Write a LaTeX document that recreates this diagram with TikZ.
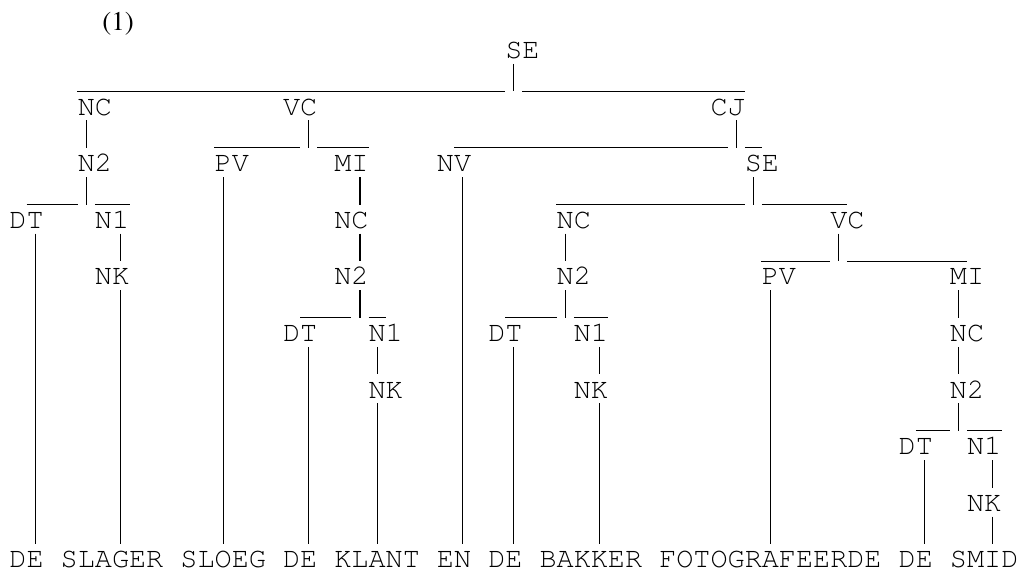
\documentclass[tikz,border=0pt]{standalone}
\usepackage[T1,TU]{fontenc}
\usetikzlibrary{calc}

\newcommand\treefont{\fontencoding{T1}\fontfamily{pcr}\fontseries{m}\fontshape{n}\fontsize{14.25pt}{14.25pt}\selectfont}
\newcommand\numfont{\fontencoding{T1}\fontfamily{ptm}\fontseries{m}\fontshape{n}\fontsize{13.5pt}{13.5pt}\selectfont}

\begin{document}
\begin{tikzpicture}[x=8.55pt, y=-14.15pt,
    lbl/.style={font=\treefont, inner sep=0pt, text height=11.7pt, text depth=2.45pt, anchor=base},
    branch/.style={line width=0.55pt}
]
    \useasboundingbox (-1.0526,-2.0671) rectangle (58.655,18.180);
    \node[font=\numfont, inner sep=0pt] (num) at (5.85,-1.22) {(1)};

    % categories
    \node[lbl] (se0) at (29.5,0) {SE};
    \node[lbl] (nc0) at (4.5,2) {NC};
    \node[lbl] (vc0) at (16.5,2) {VC};
    \node[lbl] (cj) at (41.5,2) {CJ};
    \node[lbl] (n2a) at (4.5,4) {N2};
    \node[lbl] (pv0) at (12.5,4) {PV};
    \node[lbl] (mi0) at (19.5,4) {MI};
    \node[lbl] (nv) at (25.5,4) {NV};
    \node[lbl] (se1) at (43.5,4) {SE};
    \node[lbl] (dta) at (0.5,6) {DT};
    \node[lbl] (n1a) at (5.5,6) {N1};
    \node[lbl] (nc1) at (19.5,6) {NC};
    \node[lbl] (nc2) at (32.5,6) {NC};
    \node[lbl] (vc1) at (48.5,6) {VC};
    \node[lbl] (nka) at (5.5,8) {NK};
    \node[lbl] (n2b) at (19.5,8) {N2};
    \node[lbl] (n2c) at (32.5,8) {N2};
    \node[lbl] (pv1) at (44.5,8) {PV};
    \node[lbl] (mi1) at (55.5,8) {MI};
    \node[lbl] (dtb) at (16.5,10) {DT};
    \node[lbl] (n1b) at (21.5,10) {N1};
    \node[lbl] (dtc) at (28.5,10) {DT};
    \node[lbl] (n1c) at (33.5,10) {N1};
    \node[lbl] (nc3) at (55.5,10) {NC};
    \node[lbl] (nkb) at (21.5,12) {NK};
    \node[lbl] (nkc) at (33.5,12) {NK};
    \node[lbl] (n2d) at (55.5,12) {N2};
    \node[lbl] (dtd) at (52.5,14) {DT};
    \node[lbl] (n1d) at (56.5,14) {N1};
    \node[lbl] (nkd) at (56.5,16) {NK};

    % words
    \node[lbl] (w1) at (0.5,18) {DE};
    \node[lbl] (w2) at (5.5,18) {SLAGER};
    \node[lbl] (w3) at (12,18) {SLOEG};
    \node[lbl] (w4) at (16.5,18) {DE};
    \node[lbl] (w5) at (21,18) {KLANT};
    \node[lbl] (w6) at (25.5,18) {EN};
    \node[lbl] (w7) at (28.5,18) {DE};
    \node[lbl] (w8) at (33.5,18) {BAKKER};
    \node[lbl] (w9) at (44,18) {FOTOGRAFEERDE};
    \node[lbl] (w10) at (52.5,18) {DE};
    \node[lbl] (w11) at (56.5,18) {SMID};

    % SE -> NC, CJ
    \draw[branch] ($(se0.south)+(-0.5,0)$) -- ($(se0.south |- nc0.north)+(-0.5,0)$);
    \draw[branch] (nc0.north west) -- ($(se0.south |- nc0.north)+(-1,0)$);
    \draw[branch] (se0.south |- cj.north) -- (cj.north east);

    % N2 -> DT, N1
    \draw[branch] ($(n2a.south)+(-0.5,0)$) -- ($(n2a.south |- dta.north)+(-0.5,0)$);
    \draw[branch] (dta.north) -- ($(n2a.south |- dta.north)+(-1,0)$);
    \draw[branch] (n2a.south |- n1a.north) -- (n1a.north east);

    % VC -> PV, MI
    \draw[branch] ($(vc0.south)+(0.5,0)$) -- ($(vc0.south |- pv0.north)+(0.5,0)$);
    \draw[branch] (pv0.north west) -- (vc0.south |- pv0.north);
    \draw[branch] ($(vc0.south |- mi0.north)+(1,0)$) -- (mi0.north east);

    % N2 -> DT, N1
    \draw[branch] ($(n2b.south)+(0.5,0)$) -- ($(n2b.south |- dtb.north)+(0.5,0)$);
    \draw[branch] (dtb.north) -- (n2b.south |- dtb.north);
    \draw[branch] ($(n2b.south |- n1b.north)+(1,0)$) -- (n1b.north);

    % CJ -> NV, SE
    \draw[branch] ($(cj.south)+(0.5,0)$) -- ($(cj.south |- nv.north)+(0.5,0)$);
    \draw[branch] (nv.north) -- (cj.south |- nv.north);
    \draw[branch] ($(cj.south |- se1.north)+(1,0)$) -- (se1.north);

    % SE -> NC, VC
    \draw[branch] ($(se1.south)+(-0.5,0)$) -- ($(se1.south |- nc2.north)+(-0.5,0)$);
    \draw[branch] (nc2.north west) -- ($(se1.south |- nc2.north)+(-1,0)$);
    \draw[branch] (se1.south |- vc1.north) -- (vc1.north);

    % N2 -> DT, N1
    \draw[branch] ($(n2c.south)+(-0.5,0)$) -- ($(n2c.south |- dtc.north)+(-0.5,0)$);
    \draw[branch] (dtc.north) -- ($(n2c.south |- dtc.north)+(-1,0)$);
    \draw[branch] (n2c.south |- n1c.north) -- (n1c.north east);

    % VC -> PV, MI
    \draw[branch] ($(vc1.south)+(-0.5,0)$) -- ($(vc1.south |- pv1.north)+(-0.5,0)$);
    \draw[branch] (pv1.north west) -- ($(vc1.south |- pv1.north)+(-1,0)$);
    \draw[branch] (vc1.south |- mi1.north) -- (mi1.north);

    % N2 -> DT, N1
    \draw[branch] ($(n2d.south)+(-0.5,0)$) -- ($(n2d.south |- dtd.north)+(-0.5,0)$);
    \draw[branch] (dtd.north) -- ($(n2d.south |- dtd.north)+(-1,0)$);
    \draw[branch] (n2d.south |- n1d.north) -- (n1d.north east);

    % single stems
    \draw[branch] ($(nc0.south)+(-0.5,0)$) -- ($(nc0.south |- n2a.north)+(-0.5,0)$);
    \draw[branch] ($(dta.south)+(0.5,0)$) -- ($(dta.south |- w1.north)+(0.5,0)$);
    \draw[branch] ($(n1a.south)+(0.5,0)$) -- ($(n1a.south |- nka.north)+(0.5,0)$);
    \draw[branch] ($(nka.south)+(0.5,0)$) -- ($(nka.south |- w2.north)+(0.5,0)$);
    \draw[branch] ($(pv0.south)+(-0.5,0)$) -- ($(pv0.south |- w3.north)+(-0.5,0)$);
    \draw[branch] ($(mi0.south)+(0.5,0)$) -- ($(mi0.south |- nc1.north)+(0.5,0)$);
    \draw[branch] ($(nc1.south)+(0.5,0)$) -- ($(nc1.south |- n2b.north)+(0.5,0)$);
    \draw[branch] ($(dtb.south)+(0.5,0)$) -- ($(dtb.south |- w4.north)+(0.5,0)$);
    \draw[branch] ($(n1b.south)+(-0.5,0)$) -- ($(n1b.south |- nkb.north)+(-0.5,0)$);
    \draw[branch] ($(nkb.south)+(-0.5,0)$) -- ($(nkb.south |- w5.north)+(-0.5,0)$);
    \draw[branch] ($(nv.south)+(0.5,0)$) -- ($(nv.south |- w6.north)+(0.5,0)$);
    \draw[branch] ($(nc2.south)+(-0.5,0)$) -- ($(nc2.south |- n2c.north)+(-0.5,0)$);
    \draw[branch] ($(dtc.south)+(0.5,0)$) -- ($(dtc.south |- w7.north)+(0.5,0)$);
    \draw[branch] ($(n1c.south)+(0.5,0)$) -- ($(n1c.south |- nkc.north)+(0.5,0)$);
    \draw[branch] ($(nkc.south)+(0.5,0)$) -- ($(nkc.south |- w8.north)+(0.5,0)$);
    \draw[branch] ($(pv1.south)+(-0.5,0)$) -- ($(pv1.south |- w9.north)+(-0.5,0)$);
    \draw[branch] ($(mi1.south)+(-0.5,0)$) -- ($(mi1.south |- nc3.north)+(-0.5,0)$);
    \draw[branch] ($(nc3.south)+(-0.5,0)$) -- ($(nc3.south |- n2d.north)+(-0.5,0)$);
    \draw[branch] ($(dtd.south)+(0.5,0)$) -- ($(dtd.south |- w10.north)+(0.5,0)$);
    \draw[branch] ($(n1d.south)+(0.5,0)$) -- ($(n1d.south |- nkd.north)+(0.5,0)$);
    \draw[branch] ($(nkd.south)+(0.5,0)$) -- ($(nkd.south |- w11.north)+(0.5,0)$);
\end{tikzpicture}
\end{document}
